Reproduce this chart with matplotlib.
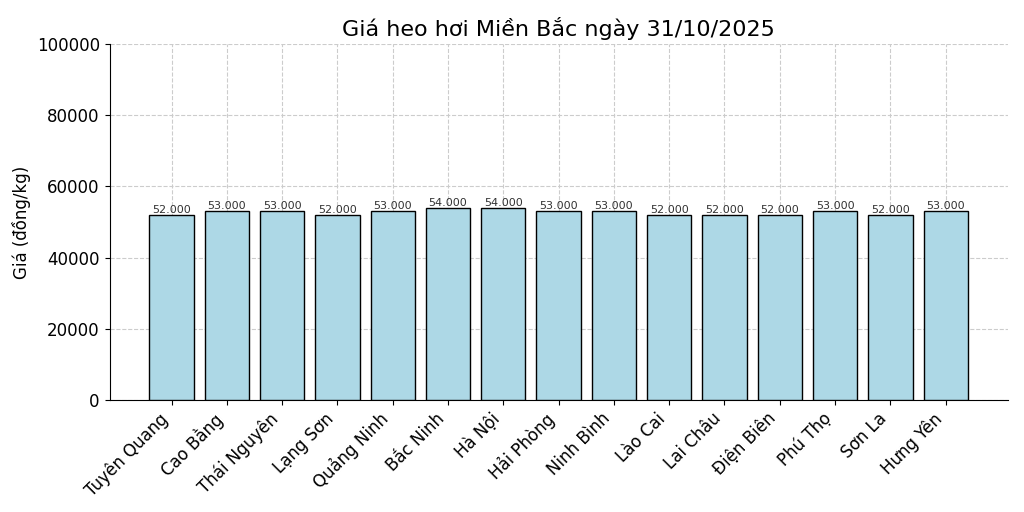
import matplotlib
matplotlib.use('Agg')
import matplotlib.pyplot as plt

# Dữ liệu
tinh = ['Tuyên Quang', 'Cao Bằng', 'Thái Nguyên', 'Lạng Sơn', 'Quảng Ninh',
        'Bắc Ninh', 'Hà Nội', 'Hải Phòng', 'Ninh Bình', 'Lào Cai',
        'Lai Châu', 'Điện Biên', 'Phú Thọ', 'Sơn La', 'Hưng Yên']
gia = [52000, 53000, 53000, 52000, 53000, 54000, 54000, 53000, 53000,
       52000, 52000, 52000, 53000, 52000, 53000]

fig = plt.figure(figsize=(10.24, 5.12), dpi=100)
ax = fig.add_axes([0.107, 0.219, 0.877, 0.695])

x = list(range(len(tinh)))
bars = ax.bar(x, gia, width=0.8, color='lightblue', edgecolor='black', linewidth=1, zorder=3)
for b, v in zip(bars, gia):
    ax.text(b.get_x() + b.get_width() / 2, v, f'{v:,}'.replace(',', '.'),
            ha='center', va='bottom', fontsize=8, color='#333333', zorder=4)

ax.set_xlim(-1.12, len(tinh) - 1 + 1.12)
ax.set_ylim(0, 100000)
ax.set_xticks(x)
ax.set_xticklabels(tinh, rotation=45, ha='right', fontsize=12)
ax.tick_params(axis='y', labelsize=12)
ax.set_title('Giá heo hơi Miền Bắc ngày 31/10/2025', fontsize=16)
ax.set_ylabel('Giá (đồng/kg)', fontsize=12)
ax.grid(True, linestyle='--', color='#cccccc', linewidth=0.8, zorder=0)
ax.spines['top'].set_visible(False)
ax.spines['right'].set_visible(False)

fig.savefig('out.png', dpi=100)
